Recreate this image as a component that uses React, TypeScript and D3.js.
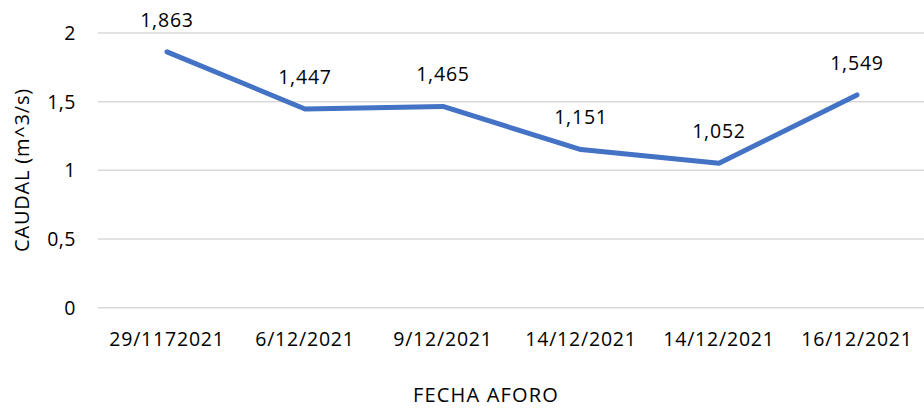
import * as d3 from 'd3';
import React from 'react';

const fechas = ['29/1172021', '6/12/2021', '9/12/2021', '14/12/2021', '14/12/2021', '16/12/2021'];
const caudal = [1.863, 1.447, 1.465, 1.151, 1.052, 1.549];
const yTicks = [0, 0.5, 1, 1.5, 2];

const W = 924;
const H = 408;
const FONT = '"Open Sans", sans-serif';

const fmt = (v: number, d: number) => v.toFixed(d).replace('.', ',');

const App = () => {
  // category slots, first point sits half a slot in from the left edge
  const x = d3.scalePoint<number>().domain(d3.range(fechas.length)).range([167, 857]);
  const y = d3.scaleLinear().domain([0, 2]).range([307.7, 33]);

  const line = d3.line<number>()
    .x((d, i) => x(i) as number)
    .y((d) => y(d));

  return (
    <svg width={W} height={H} style={{ position: 'fixed', left: 0, top: 0, background: '#fff' }}>
      {/* gridlines */}
      {yTicks.map((t) => (
        <line key={t} x1={98} x2={926} y1={y(t)} y2={y(t)} stroke="#d9d9d9" strokeWidth={1.5} />
      ))}
      {/* y tick labels */}
      {yTicks.map((t) => (
        <text key={t} x={76} y={y(t)} dy="0.35em" textAnchor="end" fontFamily={FONT} fontSize={19.5} letterSpacing={0.5} fill="#000">
          {Number.isInteger(t) ? String(t) : fmt(t, 1)}
        </text>
      ))}
      {/* x tick labels */}
      {fechas.map((f, i) => (
        <text key={i} x={x(i)} y={339} dy="0.35em" textAnchor="middle" fontFamily={FONT} fontSize={19.5} letterSpacing={0.8} fill="#000">
          {f}
        </text>
      ))}
      <path d={line(caudal) || ''} fill="none" stroke="#4472C4" strokeWidth={5} strokeLinejoin="round" strokeLinecap="round" />
      {/* data labels */}
      {caudal.map((v, i) => (
        <text key={i} x={x(i)} y={y(v) - 32} dy="0.35em" textAnchor="middle" fontFamily={FONT} fontSize={19.5} letterSpacing={0.8} fill="#000">
          {fmt(v, 3)}
        </text>
      ))}
      <text x={486} y={395} dy="0.35em" textAnchor="middle" fontFamily={FONT} fontSize={20} letterSpacing={1.2} fill="#000">
        FECHA AFORO
      </text>
      <text transform="translate(22,170) rotate(-90)" dy="0.35em" textAnchor="middle" fontFamily={FONT} fontSize={20} letterSpacing={0.8} fill="#000">
        CAUDAL (m^3/s)
      </text>
    </svg>
  );
};

export default App;
